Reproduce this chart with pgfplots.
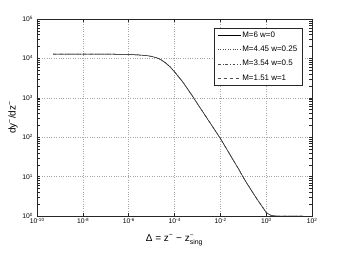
\documentclass[border=0pt]{standalone}
\usepackage{fontspec}
\setmainfont{Liberation Sans}
\usepackage{pgfplots}
\pgfplotsset{compat=1.18}
\usepackage{pgfplotstable}
\newcommand{\ep}[1]{10\raisebox{0.55ex}{\fontsize{4.6}{5}\selectfont #1}}
\pgfplotstableread{
x y
5.0e-10 12900
1e-8 12900
1e-7 12850
1e-6 12590
3.162e-6 12160
6.31e-6 11750
1e-5 11220
1.585e-5 10470
2.512e-5 9333
3.981e-5 7762
6.31e-5 6166
1e-4 4571
1.585e-4 3311
2.512e-4 2344
3.981e-4 1585
6.31e-4 1072
1e-3 708
3.162e-3 257
1e-2 93.3
3.162e-2 30.2
6.31e-2 15.5
0.1 9.55
0.1585 6.17
0.2512 4.07
0.3981 2.69
0.631 1.82
1 1.23
1.259 1.12
1.585 1.047
1.995 1.014
2.818 1.0
39.8 1.0
}\datatab
\begin{document}
\begin{tikzpicture}
\path[use as bounding box] (-37bp,-41bp) rectangle (317bp,216bp);
\begin{loglogaxis}[
  scale only axis,
  width=275bp, height=197bp,
  xmin=1e-10, xmax=1e2, ymin=1, ymax=1e5,
  xtick={1e-10,1e-8,1e-6,1e-4,1e-2,1e0,1e2},
  xticklabels={\ep{-10},\ep{-8},\ep{-6},\ep{-4},\ep{-2},\ep{0},\ep{2}},
  ytick={1,1e1,1e2,1e3,1e4,1e5},
  yticklabels={\ep{0},\ep{1},\ep{2},\ep{3},\ep{4},\ep{5}},
  minor xtick={}, minor ytick={},
  tick align=inside,
  major tick length=3bp,
  tick pos=both,
  xticklabel pos=bottom, yticklabel pos=left,
  ticklabel style={font=\fontsize{6.8}{7}\selectfont},
  xticklabel style={yshift=1bp},
  yticklabel style={xshift=-1bp},
  grid=major,
  major grid style={dotted, gray!70, line width=0.4pt},
  axis line style={line width=0.5pt, black!85},
  every tick/.style={black!85, line width=0.4pt},
  xlabel={Δ = z\textsuperscript{−} − z$^{\mbox{\fontsize{6.5}{7}\selectfont −}}_{\mbox{\fontsize{7}{8}\selectfont sing}}$},
  xlabel style={at={(axis description cs:0.5,-0.13)}, anchor=base, font=\fontsize{10}{12}\selectfont},
  ylabel={dy\textsuperscript{−}/dz\textsuperscript{−}},
  ylabel style={at={(axis description cs:-0.087,0.5)}, anchor=center, font=\fontsize{10}{12}\selectfont},
  legend style={at={(1,1)}, anchor=north east, xshift=-10bp, yshift=-9bp,
    font=\fontsize{8}{9}\selectfont, draw=black!85, line width=0.5pt,
    inner xsep=3bp, inner ysep=2bp, row sep=4.2bp,
    nodes={inner sep=1.5bp}},
  legend cell align=left,
  legend image code/.code={\draw[#1] (0bp,0bp) -- (23bp,0bp);},
]
\addplot[black, line width=0.5pt, solid] table[x=x,y=y]{\datatab};
\addlegendentry{M=6 w=0}
\addplot[black!70, line width=0.5pt, dotted] table[x=x,y=y]{\datatab};
\addlegendentry{M=4.45 w=0.25}
\addplot[black!70, line width=0.5pt, dash dot] table[x=x,y=y]{\datatab};
\addlegendentry{M=3.54 w=0.5}
\addplot[black!70, line width=0.5pt, dash pattern=on 3.5bp off 2.5bp] table[x=x,y=y]{\datatab};
\addlegendentry{M=1.51 w=1}
\end{loglogaxis}
\end{tikzpicture}
\end{document}
